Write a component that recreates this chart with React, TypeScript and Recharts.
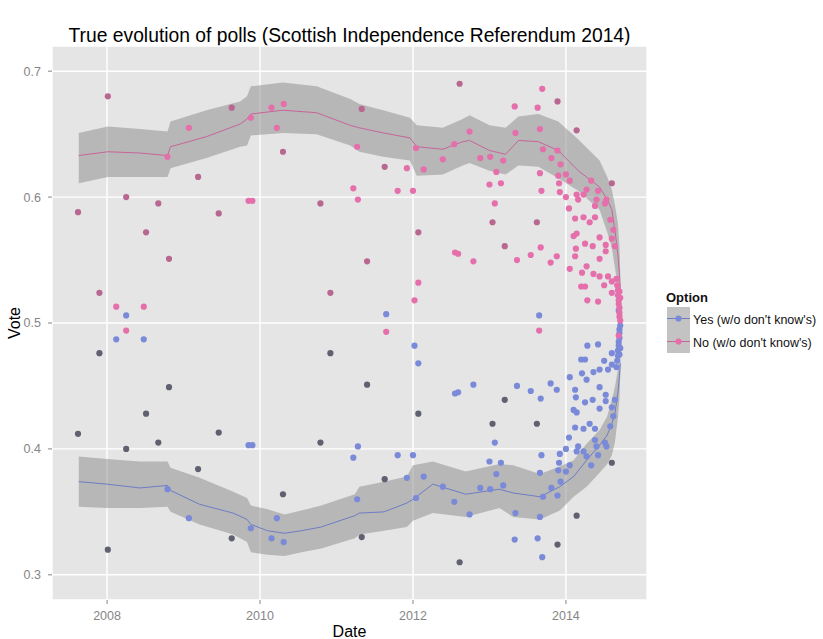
import React from "react";
import {
  ComposedChart,
  XAxis,
  YAxis,
  CartesianGrid,
  Scatter,
  Area,
  Line,
  Legend,
  Label,
} from "recharts";

const FONT = "'Liberation Sans', Arial, Helvetica, sans-serif";
const WIDTH = 823;
const HEIGHT = 639;

const chartTitle = "True evolution of polls (Scottish Independence Referendum 2014)";
const legendTitle = "Option";
const yesLabel = "Yes (w/o don't know's)";
const noLabel = "No (w/o don't know's)";

// Axis ticks
const yearTicks = [2008, 2010, 2012, 2014];
const voteTicks = [0.3, 0.4, 0.5, 0.6, 0.7];

// Each poll: [decimal year, Yes share, No share], don't knows excluded
const polls: [number, number, number][] = [
  [2007.62, 0.412, 0.588],
  [2007.9, 0.476, 0.524],
  [2008.01, 0.32, 0.68],
  [2008.12, 0.487, 0.513],
  [2008.25, 0.4, 0.6],
  [2008.25, 0.506, 0.494],
  [2008.48, 0.487, 0.513],
  [2008.51, 0.428, 0.572],
  [2008.67, 0.405, 0.595],
  [2008.79, 0.368, 0.632],
  [2008.81, 0.449, 0.551],
  [2009.07, 0.345, 0.655],
  [2009.19, 0.384, 0.616],
  [2009.46, 0.413, 0.587],
  [2009.63, 0.329, 0.671],
  [2009.85, 0.403, 0.597],
  [2009.88, 0.337, 0.663],
  [2009.9, 0.403, 0.597],
  [2010.15, 0.329, 0.671],
  [2010.22, 0.345, 0.655],
  [2010.3, 0.364, 0.636],
  [2010.31, 0.326, 0.674],
  [2010.79, 0.405, 0.595],
  [2010.92, 0.476, 0.524],
  [2011.22, 0.393, 0.607],
  [2011.27, 0.36, 0.64],
  [2011.28, 0.402, 0.598],
  [2011.33, 0.33, 0.67],
  [2011.4, 0.451, 0.549],
  [2011.63, 0.376, 0.624],
  [2011.65, 0.507, 0.493],
  [2011.8, 0.395, 0.605],
  [2011.92, 0.377, 0.623],
  [2012.0, 0.395, 0.605],
  [2012.02, 0.482, 0.518],
  [2012.04, 0.361, 0.639],
  [2012.07, 0.428, 0.572],
  [2012.07, 0.468, 0.532],
  [2012.14, 0.378, 0.622],
  [2012.39, 0.37, 0.63],
  [2012.54, 0.358, 0.642],
  [2012.55, 0.444, 0.556],
  [2012.59, 0.445, 0.555],
  [2012.61, 0.31, 0.69],
  [2012.74, 0.348, 0.652],
  [2012.79, 0.451, 0.549],
  [2012.88, 0.369, 0.631],
  [2013.0, 0.39, 0.61],
  [2013.01, 0.368, 0.632],
  [2013.04, 0.42, 0.58],
  [2013.07, 0.405, 0.595],
  [2013.09, 0.38, 0.62],
  [2013.15, 0.389, 0.611],
  [2013.18, 0.371, 0.629],
  [2013.2, 0.439, 0.561],
  [2013.33, 0.328, 0.672],
  [2013.34, 0.349, 0.651],
  [2013.36, 0.45, 0.55],
  [2013.54, 0.446, 0.554],
  [2013.62, 0.42, 0.58],
  [2013.63, 0.329, 0.671],
  [2013.65, 0.506, 0.494],
  [2013.66, 0.346, 0.654],
  [2013.66, 0.381, 0.619],
  [2013.67, 0.44, 0.56],
  [2013.68, 0.395, 0.605],
  [2013.69, 0.314, 0.686],
  [2013.7, 0.362, 0.638],
  [2013.8, 0.452, 0.548],
  [2013.81, 0.369, 0.631],
  [2013.88, 0.447, 0.553],
  [2013.89, 0.324, 0.676],
  [2013.89, 0.363, 0.637],
  [2013.9, 0.383, 0.617],
  [2013.91, 0.389, 0.611],
  [2013.92, 0.396, 0.604],
  [2013.93, 0.374, 0.626],
  [2014.0, 0.4, 0.6],
  [2014.0, 0.382, 0.618],
  [2014.04, 0.409, 0.591],
  [2014.05, 0.387, 0.613],
  [2014.05, 0.457, 0.543],
  [2014.1, 0.431, 0.569],
  [2014.12, 0.417, 0.583],
  [2014.12, 0.447, 0.553],
  [2014.13, 0.441, 0.559],
  [2014.14, 0.429, 0.571],
  [2014.14, 0.347, 0.653],
  [2014.14, 0.398, 0.602],
  [2014.16, 0.402, 0.598],
  [2014.2, 0.471, 0.529],
  [2014.21, 0.46, 0.54],
  [2014.23, 0.416, 0.584],
  [2014.23, 0.398, 0.602],
  [2014.25, 0.471, 0.529],
  [2014.25, 0.437, 0.563],
  [2014.27, 0.455, 0.545],
  [2014.27, 0.394, 0.606],
  [2014.28, 0.482, 0.518],
  [2014.31, 0.42, 0.58],
  [2014.33, 0.387, 0.613],
  [2014.35, 0.439, 0.561],
  [2014.36, 0.461, 0.539],
  [2014.38, 0.416, 0.584],
  [2014.38, 0.407, 0.593],
  [2014.4, 0.402, 0.598],
  [2014.42, 0.483, 0.517],
  [2014.42, 0.395, 0.605],
  [2014.44, 0.463, 0.537],
  [2014.44, 0.449, 0.551],
  [2014.44, 0.432, 0.568],
  [2014.5, 0.47, 0.53],
  [2014.51, 0.405, 0.595],
  [2014.52, 0.443, 0.557],
  [2014.52, 0.438, 0.562],
  [2014.53, 0.402, 0.598],
  [2014.55, 0.463, 0.537],
  [2014.58, 0.418, 0.582],
  [2014.6, 0.389, 0.611],
  [2014.6, 0.467, 0.533],
  [2014.6, 0.476, 0.524],
  [2014.6, 0.433, 0.567],
  [2014.62, 0.426, 0.574],
  [2014.64, 0.439, 0.561],
  [2014.66, 0.465, 0.535],
  [2014.67, 0.47, 0.53],
  [2014.68, 0.474, 0.526],
  [2014.68, 0.478, 0.522],
  [2014.69, 0.482, 0.518],
  [2014.69, 0.485, 0.515],
  [2014.69, 0.51, 0.49],
  [2014.7, 0.488, 0.512],
  [2014.7, 0.492, 0.508],
  [2014.7, 0.495, 0.505],
  [2014.7, 0.475, 0.525],
  [2014.71, 0.498, 0.502],
  [2014.71, 0.48, 0.52],
];

// Polls whose markers use the deeper tone (row indices into polls)
const deepTonePolls = [0, 1, 2, 4, 7, 8, 10, 12, 13, 14, 20, 22, 23, 27, 28, 29, 36, 43, 49, 54, 59, 71, 87, 118];

// Smoothed trend with confidence band: [decimal year, lower, fit, upper]
const yesTrend: [number, number, number, number][] = [
  [2007.63, 0.354, 0.374, 0.394],
  [2008.0, 0.353, 0.372, 0.392],
  [2008.43, 0.353, 0.369, 0.39],
  [2008.79, 0.354, 0.371, 0.39],
  [2008.83, 0.35, 0.367, 0.385],
  [2009.21, 0.34, 0.356, 0.377],
  [2009.65, 0.332, 0.349, 0.366],
  [2009.83, 0.326, 0.344, 0.361],
  [2009.88, 0.318, 0.34, 0.355],
  [2010.1, 0.316, 0.335, 0.352],
  [2010.32, 0.315, 0.333, 0.348],
  [2010.54, 0.318, 0.335, 0.351],
  [2010.8, 0.321, 0.338, 0.355],
  [2011.24, 0.329, 0.347, 0.364],
  [2011.3, 0.332, 0.349, 0.37],
  [2011.62, 0.335, 0.35, 0.374],
  [2011.92, 0.338, 0.357, 0.378],
  [2012.0, 0.343, 0.36, 0.387],
  [2012.26, 0.349, 0.372, 0.39],
  [2012.69, 0.346, 0.364, 0.382],
  [2013.13, 0.353, 0.368, 0.388],
  [2013.31, 0.346, 0.365, 0.387],
  [2013.66, 0.344, 0.362, 0.38],
  [2013.92, 0.351, 0.37, 0.386],
  [2014.1, 0.362, 0.378, 0.391],
  [2014.27, 0.37, 0.391, 0.404],
  [2014.44, 0.381, 0.403, 0.415],
  [2014.54, 0.388, 0.411, 0.426],
  [2014.6, 0.395, 0.42, 0.439],
  [2014.64, 0.405, 0.428, 0.449],
  [2014.68, 0.425, 0.445, 0.463],
  [2014.7, 0.44, 0.458, 0.471],
  [2014.712, 0.46, 0.468, 0.477],
];

const noTrend: [number, number, number, number][] = [
  [2007.63, 0.611, 0.633, 0.651],
  [2008.01, 0.616, 0.636, 0.656],
  [2008.43, 0.616, 0.635, 0.654],
  [2008.79, 0.616, 0.633, 0.652],
  [2008.83, 0.623, 0.64, 0.66],
  [2009.3, 0.631, 0.648, 0.669],
  [2009.74, 0.64, 0.658, 0.676],
  [2009.83, 0.641, 0.662, 0.68],
  [2009.88, 0.649, 0.666, 0.688],
  [2010.3, 0.651, 0.669, 0.691],
  [2010.74, 0.65, 0.667, 0.688],
  [2011.18, 0.641, 0.657, 0.678],
  [2011.3, 0.636, 0.655, 0.674],
  [2011.61, 0.632, 0.651, 0.669],
  [2011.96, 0.629, 0.647, 0.663],
  [2012.05, 0.617, 0.64, 0.657],
  [2012.39, 0.618, 0.638, 0.655],
  [2012.65, 0.625, 0.644, 0.662],
  [2012.74, 0.627, 0.645, 0.665],
  [2013.0, 0.621, 0.637, 0.657],
  [2013.21, 0.618, 0.634, 0.655],
  [2013.38, 0.625, 0.645, 0.664],
  [2013.64, 0.624, 0.644, 0.666],
  [2013.9, 0.615, 0.637, 0.66],
  [2014.16, 0.605, 0.621, 0.646],
  [2014.44, 0.59, 0.608, 0.629],
  [2014.54, 0.572, 0.598, 0.616],
  [2014.6, 0.56, 0.59, 0.606],
  [2014.64, 0.544, 0.574, 0.594],
  [2014.68, 0.529, 0.554, 0.579],
  [2014.7, 0.52, 0.538, 0.56],
  [2014.712, 0.515, 0.526, 0.537],
];

// Colours
const yesColor = "#7a8ad8";
const yesDeep = "#5f6170";
const noColor = "#e56fab";
const noDeep = "#b86890";
const yesLine = "#6f7cc4";
const noLine = "#c7649a";
const bandFill = "#8a8a8a";
const panelFill = "#e5e5e5";
const tickGrey = "#858585";

const deepSet = new Set(deepTonePolls);

const yesPoints = polls.map(([date, yes], i) => ({ date, share: yes, deep: deepSet.has(i) }));
const noPoints = polls.map(([date, , no], i) => ({ date, share: no, deep: deepSet.has(i) }));
const yesBand = yesTrend.map(([date, lo, fit, hi]) => ({ date, range: [lo, hi], fit }));
const noBand = noTrend.map(([date, lo, fit, hi]) => ({ date, range: [lo, hi], fit }));

const makeDot = (base: string, deep: string) => (props: any) => {
  const { cx, cy, payload } = props;
  if (cx == null || cy == null) return <g />;
  return <circle cx={cx} cy={cy} r={3.1} fill={payload && payload.deep ? deep : base} />;
};

const legendEntries = [
  { label: yesLabel, dot: yesColor, line: yesLine },
  { label: noLabel, dot: noColor, line: noLine },
];

function OptionLegend() {
  return (
    <svg width={163} height={72} style={{ display: "block", fontFamily: FONT }}>
      <text x={6} y={17} fontSize={13} fontWeight="bold" fill="#111">
        {legendTitle}
      </text>
      {legendEntries.map((e, i) => (
        <g key={e.label} transform={`translate(7, ${22 + i * 23})`}>
          <rect width={23} height={23} fill="#f2f2f2" />
          <rect width={23} height={23} fill={bandFill} fillOpacity={0.45} />
          <line x1={0} x2={23} y1={11.5} y2={11.5} stroke={e.line} strokeWidth={1} />
          <circle cx={11.5} cy={11.5} r={3.1} fill={e.dot} />
          <text x={26} y={16.5} fontSize={12.5} fill="#111">
            {e.label}
          </text>
        </g>
      ))}
    </svg>
  );
}

export default function App() {
  return (
    <div
      style={{
        position: "absolute",
        left: 0,
        top: 0,
        width: WIDTH,
        height: HEIGHT,
        background: "#fff",
        fontFamily: FONT,
      }}
    >
      <div
        style={{
          position: "absolute",
          left: 0,
          top: 26,
          width: 699,
          textAlign: "center",
          fontSize: 19.3,
          lineHeight: "19px",
          color: "#000",
          whiteSpace: "nowrap",
        }}
      >
        {chartTitle}
      </div>
      <ComposedChart
        width={WIDTH}
        height={HEIGHT}
        margin={{ top: 46, right: 176, bottom: 0, left: 0 }}
        style={{ fontFamily: FONT }}
      >
        <CartesianGrid fill={panelFill} fillOpacity={1} stroke="#ffffff" strokeWidth={1.4} />
        <XAxis
          type="number"
          dataKey="date"
          domain={[2007.28, 2015.06]}
          ticks={yearTicks}
          interval={0}
          allowDataOverflow
          tickFormatter={(v: number) => String(v)}
          height={39}
          axisLine={false}
          tickSize={4}
          tickMargin={7}
          tickLine={{ stroke: tickGrey }}
          tick={{ fill: tickGrey, fontSize: 12.5 }}
        >
          <Label value="Date" position="insideBottom" offset={2} style={{ fontSize: 16, fill: "#000" }} />
        </XAxis>
        <YAxis
          type="number"
          domain={[0.28, 0.72]}
          ticks={voteTicks}
          interval={0}
          allowDataOverflow
          tickFormatter={(v: number) => v.toFixed(1)}
          width={52}
          axisLine={false}
          tickSize={4}
          tickMargin={7}
          tickLine={{ stroke: tickGrey }}
          tick={{ fill: tickGrey, fontSize: 12.5 }}
        >
          <Label
            value="Vote"
            angle={-90}
            position="insideLeft"
            offset={14}
            style={{ fontSize: 16, fill: "#000", textAnchor: "middle" }}
          />
        </YAxis>

        <Scatter data={yesPoints} dataKey="share" shape={makeDot(yesColor, yesDeep)} isAnimationActive={false} />
        <Scatter data={noPoints} dataKey="share" shape={makeDot(noColor, noDeep)} isAnimationActive={false} />

        <Area
          data={yesBand}
          dataKey="range"
          type="linear"
          stroke="none"
          fill={bandFill}
          fillOpacity={0.5}
          isAnimationActive={false}
          activeDot={false}
        />
        <Line
          data={yesBand}
          dataKey="fit"
          type="linear"
          stroke={yesLine}
          strokeWidth={1}
          dot={false}
          activeDot={false}
          isAnimationActive={false}
        />
        <Area
          data={noBand}
          dataKey="range"
          type="linear"
          stroke="none"
          fill={bandFill}
          fillOpacity={0.5}
          isAnimationActive={false}
          activeDot={false}
        />
        <Line
          data={noBand}
          dataKey="fit"
          type="linear"
          stroke={noLine}
          strokeWidth={1}
          dot={false}
          activeDot={false}
          isAnimationActive={false}
        />

        <Legend
          content={() => <OptionLegend />}
          layout="vertical"
          align="center"
          verticalAlign="middle"
          wrapperStyle={{ left: 660, top: 285, width: 163 }}
        />
      </ComposedChart>
    </div>
  );
}
